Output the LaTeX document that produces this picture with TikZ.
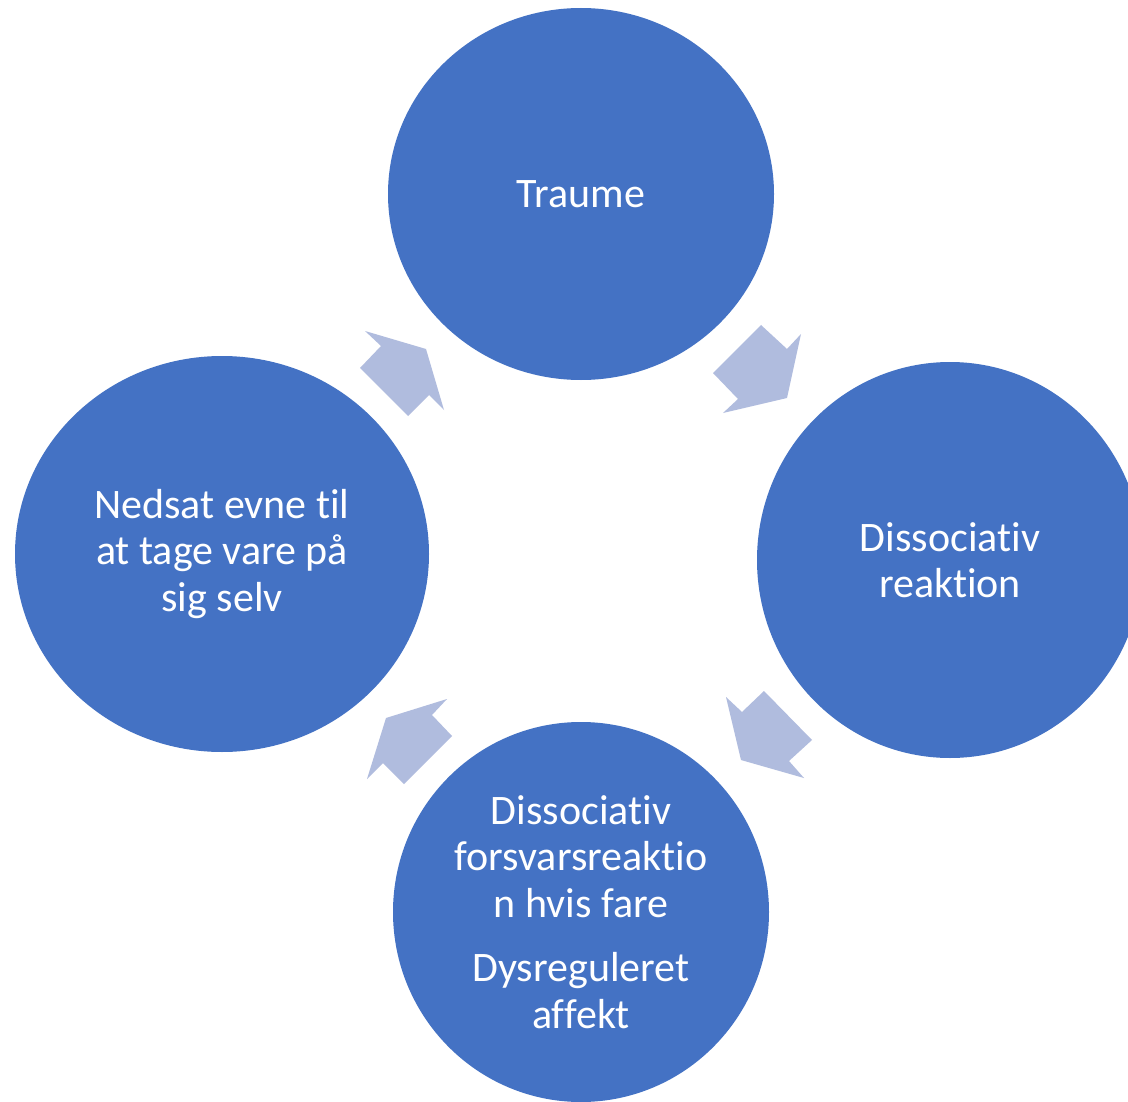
\documentclass[tikz,border=0pt]{standalone}
\usepackage{fontspec}
\setmainfont[Ligatures={NoCommon}]{Carlito}
\usetikzlibrary{shapes.geometric}
\definecolor{cblue}{RGB}{68,114,196}
\definecolor{ablue}{RGB}{176,188,222}
\tikzset{
  circ/.style={ellipse, fill=cblue, draw=none, inner sep=0pt, text=white, align=center,
    font=\fontsize{42pt}{46.5pt}\selectfont},
  blockarrow/.style={fill=ablue, draw=none}
}
\begin{document}
\begin{tikzpicture}[x=1pt,y=-1pt]
\useasboundingbox (0,0) rectangle (1128,1102);
\clip (0,0) rectangle (1128,1102);
\fill[white] (0,0) rectangle (1128,1102);
\node[circ, minimum width=386pt, minimum height=372pt] (top) at (581,194) {Traume};
\node[circ, minimum width=386pt, minimum height=396pt] (right) at (950,560) {Dissociativ\\reaktion};
\node[circ, minimum width=376pt, minimum height=380pt] (bottom) at (581,912) {Dissociativ\\forsvarsreaktio\\n hvis fare\\[18pt]Dysreguleret\\affekt};
\node[circ, minimum width=414pt, minimum height=396pt] (left) at (222,554) {Nedsat evne til\\at tage vare på\\sig selv};
% block arrows
\fill[blockarrow] (713,373) -- (738,399) -- (723,413) -- (787,398) -- (801,334) -- (787,349) -- (761,325) -- cycle;
\fill[blockarrow] (764,691) -- (742,712) -- (726,697) -- (741,760) -- (804,778) -- (789,761) -- (812,740) -- cycle;
\fill[blockarrow] (452,736) -- (432,715) -- (447,699) -- (386,718) -- (367,779) -- (383,763) -- (404,784) -- cycle;
\fill[blockarrow] (408,416) -- (429,395) -- (444,410) -- (426,349) -- (365,331) -- (381,346) -- (360,368) -- cycle;
\end{tikzpicture}
\end{document}
